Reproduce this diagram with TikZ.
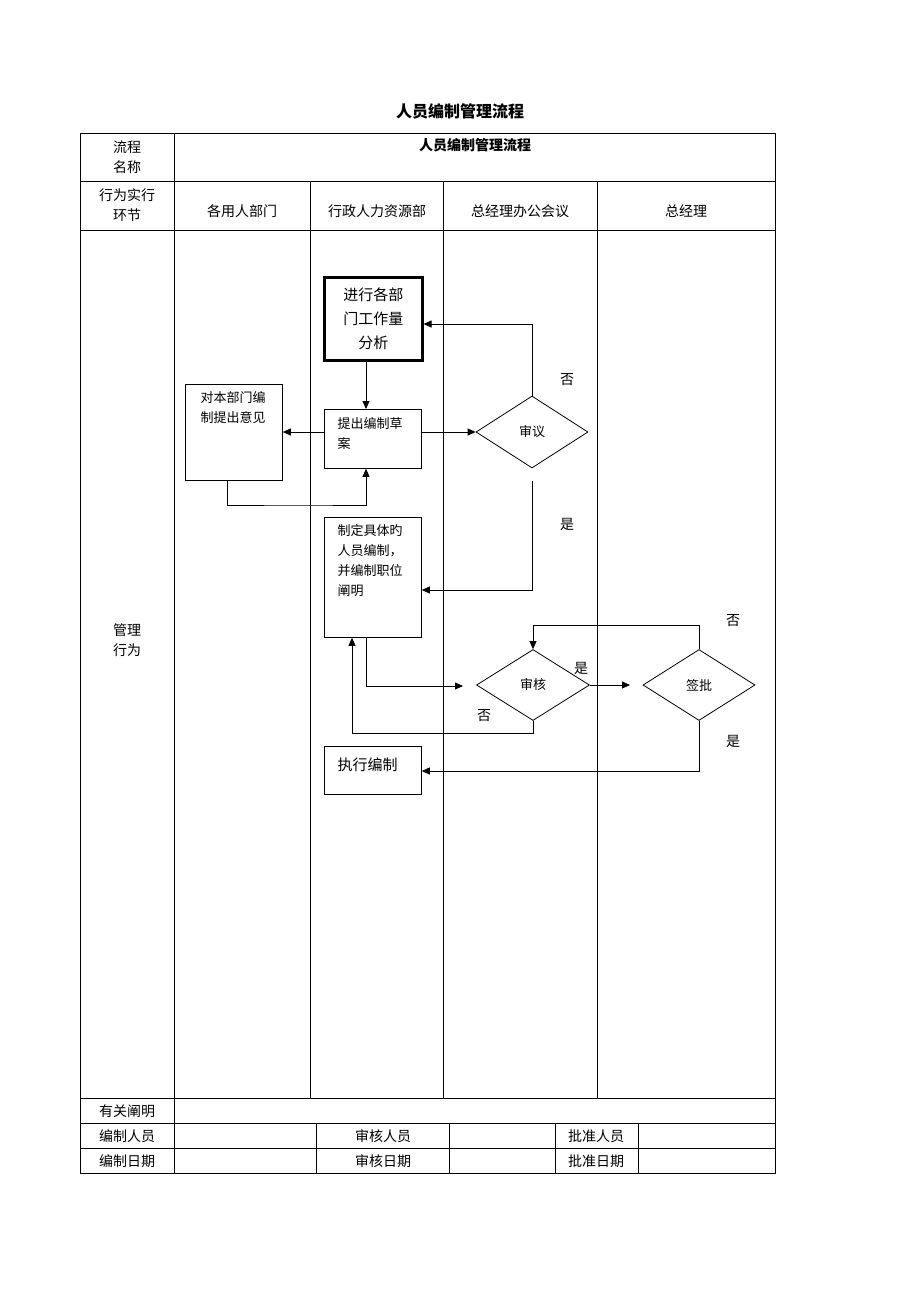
\documentclass[tikz,border=0pt]{standalone}
\usepackage{fontspec}
\setmainfont{Noto Sans CJK SC}
\usetikzlibrary{shapes.geometric,arrows.meta}
\begin{document}
\begin{tikzpicture}[x=1pt,y=-1pt,
 ln/.style={line width=0.8pt},
 arr/.style={ln,-{Triangle[length=8pt,width=7pt]}},
 box/.style={draw,line width=0.8pt,anchor=north west,inner sep=0pt},
 dia/.style={draw,diamond,line width=0.8pt,inner sep=0pt,font=\fontsize{13}{15}\selectfont},
 lab/.style={font=\fontsize{14}{20}\selectfont,align=center},
 sm/.style={font=\fontsize{13}{20}\selectfont,align=left}]
\useasboundingbox (0,0) rectangle (920,1302);
% table
\draw[ln] (80,133) rectangle (775,1173);
\foreach \y in {181,230,1098,1123,1148} \draw[ln] (80,\y)--(775,\y);
\foreach \x in {174} \draw[ln] (\x,133)--(\x,1173);
\foreach \x in {310,443,597} \draw[ln] (\x,181)--(\x,1098);
\foreach \x in {316,449,555,638} \draw[ln] (\x,1123)--(\x,1173);
\node[lab,font=\fontsize{16}{20}\selectfont\bfseries] (t) at (460,111) {人员编制管理流程};
\node[lab] (a1) at (127,157) {流程\\名称};
\node[lab,font=\fontsize{14}{20}\selectfont\bfseries] (a2) at (475,145) {人员编制管理流程};
\node[lab] (b1) at (127,205) {行为实行\\环节};
\node[lab] (b2) at (242,211) {各用人部门};
\node[lab] (b3) at (377,211) {行政人力资源部};
\node[lab] (b4) at (520,211) {总经理办公会议};
\node[lab] (b5) at (686,211) {总经理};
\node[lab] (c1) at (127,640) {管理\\行为};
\node[lab] (d1) at (127,1111) {有关阐明};
\node[lab] (d2) at (127,1136) {编制人员};
\node[lab] (d3) at (383,1136) {审核人员};
\node[lab] (d4) at (596,1136) {批准人员};
\node[lab] (e2) at (127,1161) {编制日期};
\node[lab] (e3) at (383,1161) {审核日期};
\node[lab] (e4) at (596,1161) {批准日期};
% nodes
\node[box,line width=2.5pt,minimum width=98,minimum height=83] (n1) at (323,276) {};
\node[lab,font=\fontsize{15}{24}\selectfont] at (n1.center) {进行各部\\门工作量\\分析};
\node[box,minimum width=97,minimum height=96] (n2) at (185,384) {};
\node[sm,anchor=north] at (233,388) {对本部门编\\制提出意见};
\node[box,minimum width=97,minimum height=59] (n3) at (324,409) {};
\node[sm,anchor=north west] at (334,414) {提出编制草\\案};
\node[dia,minimum width=112,minimum height=72] (d5) at (532,432) {审议};
\node[box,minimum width=97,minimum height=120] (n4) at (324,517) {};
\node[sm,anchor=north west] at (334,521) {制定具体旳\\人员编制，\\并编制职位\\阐明};
\node[dia,minimum width=113,minimum height=71] (d6) at (533,685) {审核};
\node[dia,minimum width=112,minimum height=71] (d7) at (699,685) {签批};
\node[box,minimum width=97,minimum height=48] (n5) at (324,746) {};
\node[lab,font=\fontsize{15}{20}\selectfont,anchor=north west] at (334,754) {执行编制};
% connectors
\draw[arr] (366,359) -- (n3.north-|366,0);
\draw[arr] (n3.west|-0,432) -- (n2.east|-0,432);
\draw[arr] (n2.south-|227,0) |- (300,505) -| (n3.south-|366,0);
\draw[arr] (n3.east|-0,432) -- (d5.west);
\draw[arr] (d5.north) |- (n1.east|-0,324);
\coordinate (g1) at (532,481);
\draw[arr] (g1) |- (n4.east|-0,590);
\coordinate (g2) at (463,686);
\draw[arr] (n4.south-|366,0) |- (g2);
\coordinate (g3) at (630,685);
\draw[arr] (d6.east) -- (g3);
\draw[arr] (d6.south) |- (352,733) -- (n4.south-|352,0);
\draw[arr] (d7.north) |- (533,625) -- (d6.north);
\draw[arr] (d7.south) |- (n5.east|-0,771);
\node[lab] at (567,380) {否};
\node[lab] at (567,524) {是};
\node[lab] at (581,668) {是};
\node[lab] at (484,716) {否};
\node[lab] at (733,621) {否};
\node[lab] at (733,741) {是};
\end{tikzpicture}
\end{document}
